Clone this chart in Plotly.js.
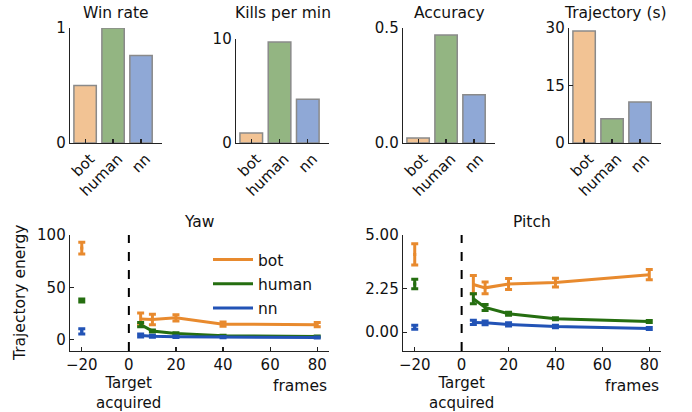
<!DOCTYPE html>
<html>
<head>
<meta charset="utf-8">
<script src="https://cdn.plot.ly/plotly-3.0.1.min.js"></script>
<style>html,body{margin:0;padding:0;background:#fff;}#chart{width:692px;height:412px;}</style>
</head>
<body>
<div id="chart"></div>
<script>
// ---------- data ----------
const categories = ['bot', 'human', 'nn'];
const winRate = [0.50, 1.00, 0.76];
const killsPerMin = [0.96, 9.7, 4.2];
const accuracy = [0.022, 0.47, 0.21];
const trajectorySec = [29.2, 6.3, 10.7];

const preFrame = [-20];
const frames = [5, 10, 20, 40, 80];

const yawBot = [20, 19.5, 21, 15, 14.5];
const yawBotErr = [5.6, 5, 3, 2, 2];
const yawBotPre = [87.5], yawBotPreErr = [5.7];
const yawHuman = [14.5, 8.5, 6, 4, 3.3];
const yawHumanErr = [2, 1, 0.8, 0.5, 0.5];
const yawHumanPre = [37.5], yawHumanPreErr = [1.5];
const yawNn = [4.2, 3.5, 3, 2.6, 2.3];
const yawNnErr = [1.5, 1, 0.7, 0.5, 0.5];
const yawNnPre = [8], yawNnPreErr = [2.5];

const pitchBot = [2.45, 2.28, 2.48, 2.55, 2.96];
const pitchBotErr = [0.47, 0.3, 0.28, 0.23, 0.26];
const pitchBotPre = [4.0], pitchBotPreErr = [0.55];
const pitchHuman = [1.72, 1.27, 0.95, 0.69, 0.55];
const pitchHumanErr = [0.26, 0.15, 0.08, 0.05, 0.05];
const pitchHumanPre = [2.48], pitchHumanPreErr = [0.24];
const pitchNn = [0.5, 0.48, 0.4, 0.29, 0.19];
const pitchNnErr = [0.11, 0.1, 0.08, 0.06, 0.05];
const pitchNnPre = [0.25], pitchNnPreErr = [0.1];

// ---------- styling ----------
const W = 692, H = 412;
const px = v => v / W;
const py = v => 1 - v / H;
const TICKFONT = {family: 'DejaVu Sans', size: 15, color: '#111'};
const FONT = {family: 'DejaVu Sans', size: 15.5, color: '#111'};
const barFill = ['#F2C394', '#93B582', '#8FA8D6'];
const lineCol = {bot: '#E88A2E', human: '#256E10', nn: '#2253B6'};
const AX = '#222';

const traces = [];
const barSets = [winRate, killsPerMin, accuracy, trajectorySec];
const catIdx = categories.map((c, i) => i);
barSets.forEach((vals, k) => {
  traces.push({
    type: 'bar', x: catIdx, y: vals, width: 0.8,
    marker: {color: barFill, line: {color: '#8a8a8a', width: 1.5}},
    xaxis: 'x' + (k + 1), yaxis: 'y' + (k + 1), showlegend: false, hoverinfo: 'skip'
  });
});

function addSeries(name, col, pre, preErr, vals, errs, ax, legend) {
  traces.push({
    type: 'scatter', mode: 'lines', x: frames, y: vals, name: name,
    line: {color: col, width: 3}, legendgroup: name,
    error_y: {type: 'data', array: errs, color: col, thickness: 3, width: 3.5},
    xaxis: 'x' + ax, yaxis: 'y' + ax, showlegend: legend
  });
  traces.push({
    type: 'scatter', mode: 'markers', x: preFrame, y: pre, name: name,
    marker: {color: col, size: 3, symbol: 'square'}, legendgroup: name,
    error_y: {type: 'data', array: preErr, color: col, thickness: 3, width: 3.5},
    xaxis: 'x' + ax, yaxis: 'y' + ax, showlegend: false
  });
}
addSeries('bot', lineCol.bot, yawBotPre, yawBotPreErr, yawBot, yawBotErr, 5, true);
addSeries('human', lineCol.human, yawHumanPre, yawHumanPreErr, yawHuman, yawHumanErr, 5, true);
addSeries('nn', lineCol.nn, yawNnPre, yawNnPreErr, yawNn, yawNnErr, 5, true);
addSeries('bot', lineCol.bot, pitchBotPre, pitchBotPreErr, pitchBot, pitchBotErr, 6, false);
addSeries('human', lineCol.human, pitchHumanPre, pitchHumanPreErr, pitchHuman, pitchHumanErr, 6, false);
addSeries('nn', lineCol.nn, pitchNnPre, pitchNnPreErr, pitchNn, pitchNnErr, 6, false);

const baseAxis = {
  showline: true, linecolor: AX, linewidth: 1.3, mirror: false,
  showgrid: false, zeroline: false, ticks: 'inside', ticklen: 4,
  tickcolor: AX, tickwidth: 1.2, tickfont: TICKFONT, fixedrange: true
};

const layout = {
  width: W, height: H, margin: {l: 0, r: 0, t: 0, b: 0},
  paper_bgcolor: '#fff', plot_bgcolor: '#fff', font: FONT,
  showlegend: true,
  legend: {x: px(208), y: py(243), xanchor: 'left', yanchor: 'top',
           bgcolor: 'rgba(0,0,0,0)', font: FONT, tracegroupgap: 1,
           traceorder: 'grouped', itemwidth: 40},
  shapes: [], annotations: []
};

const topX = [[70, 162], [236, 329], [403, 495], [569, 661]];
const topYTop = [28, 39, 28, 28];
const topRanges = [[0, 1], [0, 10], [0, 0.5], [0, 30]];
const topTicks = [[0, 1], [0, 10], [0, 0.5], [0, 15, 30]];
const topFmt = ['', '', '.1f', ''];
const topTitles = ['Win rate', 'Kills per min', 'Accuracy', 'Trajectory (s)'];
for (let k = 0; k < 4; k++) {
  const n = k + 1;
  layout['xaxis' + n] = Object.assign({}, baseAxis, {
    domain: [px(topX[k][0]), px(topX[k][1])], anchor: 'y' + n,
    range: [-0.54, 2.75], tickvals: catIdx, ticktext: categories,
    tickangle: -45, ticklabelshift: 5, ticklen: 4
  });
  layout['yaxis' + n] = Object.assign({}, baseAxis, {
    domain: [py(143), py(topYTop[k])], anchor: 'x' + n,
    range: topRanges[k], tickvals: topTicks[k], tickformat: topFmt[k]
  });
  layout.annotations.push({
    text: topTitles[k], xref: 'paper', yref: 'paper',
    x: px((topX[k][0] + topX[k][1]) / 2), y: py(13), xanchor: 'center', yanchor: 'middle',
    showarrow: false, font: FONT
  });
}

const botX = [[70, 329], [403, 661]];
const botRanges = [[-10.6, 100], [-0.97, 5.0]];
const botTicks = [[0, 50, 100], [0, 2.25, 5]];
const botFmt = ['', '.2f'];
const botTitles = ['Yaw', 'Pitch'];
for (let k = 0; k < 2; k++) {
  const n = k + 5;
  layout['xaxis' + n] = Object.assign({}, baseAxis, {
    domain: [px(botX[k][0]), px(botX[k][1])], anchor: 'y' + n,
    range: [-25, 85], tickvals: [-20, 0, 20, 40, 60, 80]
  });
  layout['yaxis' + n] = Object.assign({}, baseAxis, {
    domain: [py(351), py(235)], anchor: 'x' + n,
    range: botRanges[k], tickvals: botTicks[k], tickformat: botFmt[k]
  });
  layout.shapes.push({
    type: 'line', xref: 'x' + n, yref: 'y' + n + ' domain',
    x0: 0, x1: 0, y0: 0, y1: 1, line: {color: '#000', width: 2, dash: 'dash'}
  });
  const cx = (botX[k][0] + botX[k][1]) / 2;
  layout.annotations.push({
    text: botTitles[k], xref: 'paper', yref: 'paper', x: px(cx), y: py(222),
    xanchor: 'center', yanchor: 'middle', showarrow: false, font: FONT
  });
  layout.annotations.push({
    text: 'Target<br>acquired', xref: 'x' + n, yref: 'paper', x: 0, y: py(393),
    xanchor: 'center', yanchor: 'middle', showarrow: false,
    font: {family: 'DejaVu Sans', size: 15, color: '#111'}
  });
  layout.annotations.push({
    text: 'frames', xref: 'paper', yref: 'paper', x: px(botX[k][1]), y: py(386),
    xanchor: 'right', yanchor: 'middle', showarrow: false, font: FONT
  });
}
layout.annotations.push({
  text: 'Trajectory energy', xref: 'paper', yref: 'paper', x: px(20), y: py(293),
  xanchor: 'center', yanchor: 'middle', textangle: -90, showarrow: false, font: FONT
});

Plotly.newPlot('chart', traces, layout, {staticPlot: true, displayModeBar: false});
</script>
</body>
</html>
